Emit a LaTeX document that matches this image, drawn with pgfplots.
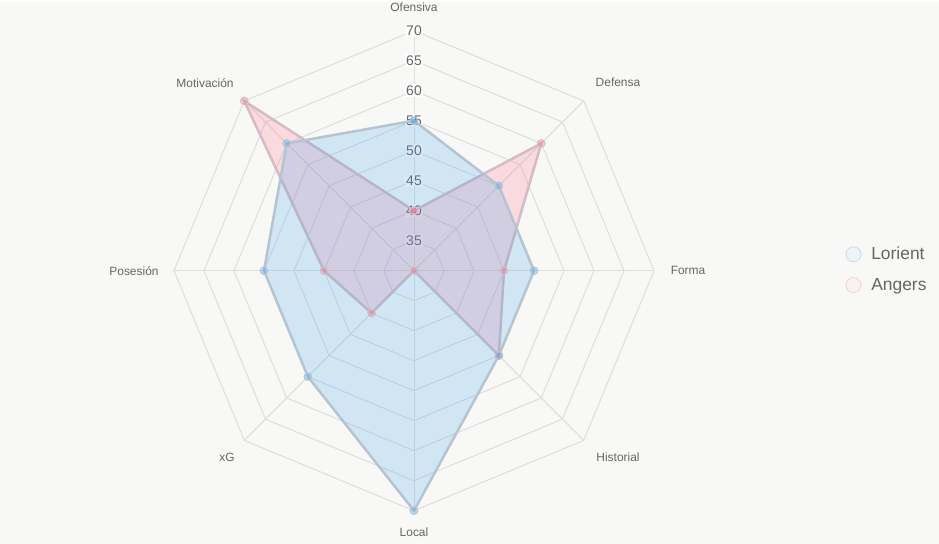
\documentclass[border=0pt]{standalone}
\usepackage{pgfplots}
\pgfplotsset{compat=1.18}
\usepackage{pgfplotstable}
\usepackage{fontspec}
\setmainfont{Liberation Sans}
\definecolor{bg}{RGB}{248,248,246}
\definecolor{gridc}{RGB}{222,222,222}
\definecolor{txt}{RGB}{102,102,102}
\definecolor{lorF}{RGB}{54,162,235}
\definecolor{angF}{RGB}{255,99,132}
\definecolor{lorL}{RGB}{182,196,210}
\definecolor{angL}{RGB}{214,186,196}

% angle (deg), Lorient, Angers
\pgfplotstableread{
ang lor angr
90 55 40
45 50 60
0 50 45
-45 50 50
-90 70 30
-135 55 40
180 55 45
135 60 70
90 55 40
}\radar

\begin{document}
\begin{tikzpicture}
\begin{axis}[
  width=939bp, height=542bp, scale only axis,
  xmin=-69, xmax=87.5, ymin=-45.5, ymax=44.8333,
  hide axis, clip=false, reverse legend,
  legend style={at={(axis cs:71.9,0.2)}, anchor=west, draw=none, fill=none,
    font=\fontsize{17.5}{19}\selectfont, text=txt, row sep=9bp, inner sep=0pt,
    nodes={inner sep=4bp}, cells={anchor=west}},
]
\fill[bg] (axis cs:-69,-45.5) rectangle (axis cs:87.5,44.8333);
% grid rings
\pgfplotsinvokeforeach{5,10,15,20,25,30,35,40}{
  \draw[gridc, line width=1bp] (axis cs:#1,0) -- (axis cs:{#1*0.70711},{#1*0.70711}) -- (axis cs:0,#1)
    -- (axis cs:{-#1*0.70711},{#1*0.70711}) -- (axis cs:-#1,0) -- (axis cs:{-#1*0.70711},{-#1*0.70711})
    -- (axis cs:0,-#1) -- (axis cs:{#1*0.70711},{-#1*0.70711}) -- cycle;
}
% spokes
\pgfplotsinvokeforeach{0,45,90,135,180,225,270,315}{
  \draw[gridc, line width=1bp] (axis cs:0,0) -- (axis cs:{40*cos(#1)},{40*sin(#1)});
}
% radial tick labels
\pgfplotsinvokeforeach{35,40,45,50,55,60,65,70}{
  \node[fill=white, fill opacity=0.75, text opacity=1, text=txt, inner sep=1.5bp,
    font=\fontsize{14}{14}\selectfont] at (axis cs:0,{#1-30}) {#1};
}
% point labels
\begin{scope}[every node/.style={text=txt, font=\fontsize{12}{14}\selectfont}]
\node at (axis cs:0,43.83) {Ofensiva};
\node at (axis cs:34,31.33) {Defensa};
\node at (axis cs:45.67,0) {Forma};
\node at (axis cs:34,-31.17) {Historial};
\node at (axis cs:0,-43.67) {Local};
\node at (axis cs:-31.17,-31.17) {xG};
\node at (axis cs:-46.67,0) {Posesión};
\node at (axis cs:-34.83,31.33) {Motivación};
\end{scope}

\addplot[draw=angL, line width=2.5bp, fill=angF, fill opacity=0.2,
  mark=*, mark size=3.8bp, mark options={fill=angF, fill opacity=0.3, draw=angL, line width=1bp},
  legend image code/.code={\draw[fill=angF!20!bg, draw=angF!30!bg, line width=0.8bp] (7.5bp,0) circle (7.5bp); \path (20bp,0);}]
  table[x expr={(\thisrow{angr}-30)*cos(\thisrow{ang})}, y expr={(\thisrow{angr}-30)*sin(\thisrow{ang})}] {\radar};
\addplot[draw=lorL, line width=2.5bp, fill=lorF, fill opacity=0.2,
  mark=*, mark size=3.8bp, mark options={fill=lorF, fill opacity=0.3, draw=lorL, line width=1bp},
  legend image code/.code={\draw[fill=lorF!20!bg, draw=lorF!30!bg, line width=0.8bp] (7.5bp,0) circle (7.5bp); \path (20bp,0);}]
  table[x expr={(\thisrow{lor}-30)*cos(\thisrow{ang})}, y expr={(\thisrow{lor}-30)*sin(\thisrow{ang})}] {\radar};
\legend{Angers, Lorient}
\end{axis}
\end{tikzpicture}
\end{document}
